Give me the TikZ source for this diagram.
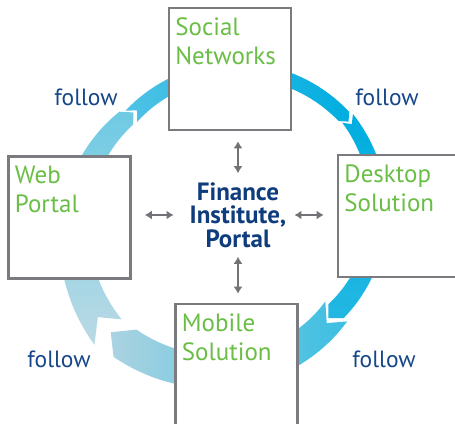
\documentclass[tikz,border=0pt]{standalone}
\usepackage{fontspec}
\setmainfont{PT Sans}
\usetikzlibrary{arrows.meta}

\definecolor{boxgray}{HTML}{7A7B7E}
\definecolor{arrgray}{HTML}{727377}
\definecolor{labgreen}{HTML}{6ABE46}
\definecolor{darkblue}{HTML}{0E3C7D}
\definecolor{followblue}{HTML}{15468A}
\definecolor{ringA}{HTML}{00AEE0}
\definecolor{ringB}{HTML}{4FC2E5}
\definecolor{ringC}{HTML}{22B7E2}
\definecolor{ringD}{HTML}{3ABEE2}
\definecolor{ringE}{HTML}{ABD3E1}
\definecolor{ringF}{HTML}{BBDAE4}
\definecolor{ringG}{HTML}{6FCAE4}

% ring piece: start, end angle, inner r (start,end), outer r (start,end), shading
\newcommand{\ringarrow}[7]{%
  \pgfmathsetmacro\rmA{(#3+#5)/2}%
  \pgfmathsetmacro\rmB{(#4+#6)/2}%
  \pgfmathsetmacro\sA{#1+deg((#5-#3)/2/\rmA)}%
  \pgfmathsetmacro\sB{#2+deg((#6-#4)/2/\rmB)}%
  \shade[#7] plot[domain=\sA:\sB, samples=40, variable=\t] (\t:{#5+(#6-#5)*(\t-#1)/(#2-#1)})
    -- (#2:\rmB)
    -- plot[domain=\sB:\sA, samples=40, variable=\t] (\t:{#3+(#4-#3)*(\t-#1)/(#2-#1)})
    -- (#1:\rmA) -- cycle;
}

\begin{document}
\begin{tikzpicture}[x=1pt,y=1pt,
    box/.style={draw=boxgray, line width=2.6pt, fill=white,
      minimum width=122pt, minimum height=122pt, inner sep=0pt},
    boxtext/.style={text=labgreen, font=\fontsize{25}{29}\selectfont,
      align=left, inner sep=0pt, anchor=north west},
    follow/.style={text=followblue, font=\fontsize{23.5}{24}\selectfont,
      inner sep=0pt, anchor=base},
    link/.style={arrgray, line width=2.4pt,
      {Latex[length=7pt,width=9pt]}-{Latex[length=7pt,width=9pt]}}]
    \useasboundingbox (0,0) rectangle (455,423);

    % the follow ring, clockwise
    \begin{scope}[shift={(232,207)}]
        \ringarrow{132}{39}{134}{143}{150}{157}{left color=ringB, right color=ringA}
        \ringarrow{37.5}{-46.7}{144}{130}{158}{151}{top color=ringA, bottom color=ringC}
        \ringarrow{-48.5}{-136.2}{128}{150}{158}{186}{right color=ringD, left color=ringE}
        \ringarrow{-143}{-226.4}{150}{134}{186}{152}{bottom color=ringF, top color=ringG}
    \end{scope}

    % boxes
    \node[box] (social) at (230,354) {};
    \node[box] (web) at (69.5,205.5) {};
    \node[box] (desktop) at (399,207) {};
    \node[box] (mobile) at (236.5,58) {};

    \node[boxtext] (socialtxt) at ([shift={(7.5,-11)}]social.north west) {Social\\Networks};
    \node[boxtext] (webtxt) at ([shift={(7.5,-11)}]web.north west) {Web\\Portal};
    \node[boxtext] (desktoptxt) at ([shift={(7.5,-11)}]desktop.north west) {Desktop\\Solution};
    \node[boxtext] (mobiletxt) at ([shift={(7.5,-11)}]mobile.north west) {Mobile\\Solution};

    % centre
    \node[text=darkblue, font=\bfseries\fontsize{25}{23.5}\selectfont, align=center,
      inner sep=0pt] (finance) at (238,208) {Finance\\Institute,\\Portal};

    \draw[link, shorten <=10pt, shorten >=9pt] (finance.north |- social.south) -- (finance.north);
    \draw[link, shorten <=9pt, shorten >=9pt] (finance.south) -- (finance.south |- mobile.north);
    \draw[link, shorten <=13pt, shorten >=16pt] (web.east |- finance.center) -- (finance.west);
    \draw[link, shorten <=8pt, shorten >=13pt] (finance.east) -- (finance.center -| desktop.west);

    % labels
    \foreach \n/\x/\y in {tl/86/317, tr/387/317, bl/59/55, br/384/56}
        \node[follow] (follow\n) at (\x,\y) {follow};
\end{tikzpicture}
\end{document}
